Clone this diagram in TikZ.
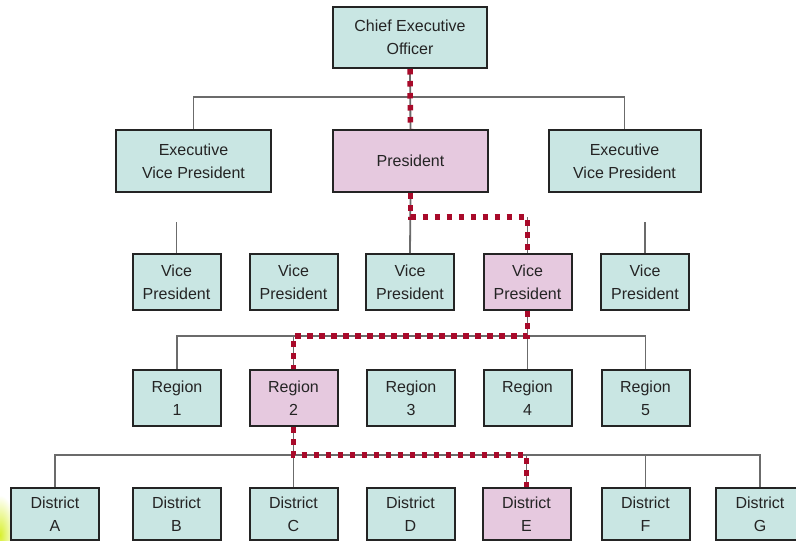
\documentclass[tikz,border=0pt]{standalone}
\usepackage{fontspec}
\setmainfont{Liberation Sans}
\begin{document}
\definecolor{boxteal}{HTML}{C9E6E3}
\definecolor{boxpink}{HTML}{E6C9DF}
\definecolor{edgeink}{HTML}{242424}
\definecolor{wire}{HTML}{6B6B6B}
\definecolor{pathred}{HTML}{A80A2A}
\definecolor{glow}{HTML}{D8F030}
\begin{tikzpicture}[x=1pt,y=-1pt,
  unit/.style={draw=edgeink,line width=2pt,fill=boxteal,inner sep=0pt,
    text=edgeink,align=center,
    font=\fontsize{16}{23}\selectfont},
  hilite/.style={unit,fill=boxpink},
  wide/.style={minimum width=155pt,minimum height=62pt},
  narrow/.style={minimum width=88pt,minimum height=56pt},
  lowbox/.style={minimum width=88pt,minimum height=52pt},
  link/.style={draw=wire,line width=1.8pt},
  route/.style={draw=pathred,line width=5.5pt,dash pattern=on 5.5pt off 6.5pt}]
\useasboundingbox (0,0) rectangle (796,541);
\clip (0,0) rectangle (796,541);
\fill[white] (0,0) rectangle (796,541);

% soft highlight in the lower left corner
\shade[inner color=glow,outer color=white] (0,535) ellipse [x radius=16pt,y radius=40pt];

% top levels
\node[unit,wide,minimum width=154pt,minimum height=61pt] (ceo) at (410,37.5) {Chief Executive\\Officer};
\node[hilite,wide] (pres) at (410.5,161) {President};
\node[unit,wide] (evpL) at (193.5,161) {Executive\\Vice President};
\node[unit,wide,minimum width=152pt] (evpR) at (624.5,161) {Executive\\Vice President};

% vice presidents
\node[unit,narrow] (vp1) at (176.5,282) {Vice\\President};
\node[unit,narrow] (vp2) at (293.5,282) {Vice\\President};
\node[unit,narrow] (vp3) at (410,282) {Vice\\President};
\node[hilite,narrow] (vp4) at (527.5,282) {Vice\\President};
\node[unit,narrow] (vp5) at (645,282) {Vice\\President};

% regions
\node[unit,narrow] (r1) at (177,398) {Region\\1};
\node[hilite,narrow] (r2) at (293.5,398) {Region\\2};
\node[unit,narrow] (r3) at (411,398) {Region\\3};
\node[unit,narrow] (r4) at (527.5,398) {Region\\4};
\node[unit,narrow] (r5) at (645.5,398) {Region\\5};

% districts
\node[unit,lowbox] (dA) at (55,514) {District\\A};
\node[unit,lowbox] (dB) at (176.5,514) {District\\B};
\node[unit,lowbox] (dC) at (293.5,514) {District\\C};
\node[unit,lowbox] (dD) at (410.5,514) {District\\D};
\node[hilite,lowbox] (dE) at (526.5,514) {District\\E};
\node[unit,lowbox] (dF) at (645.5,514) {District\\F};
\node[unit,lowbox] (dG) at (760,514) {District\\G};

% junction points
\coordinate (bus1) at (410,97);
\coordinate (s1) at (176.5,222);
\coordinate (s5) at (645,222);
\coordinate (k1) at (527.5,217);
\coordinate (bus2) at (527.5,336);
\coordinate (bus3) at (293.5,455);

% reporting lines
\draw[link] (ceo.south) -- (pres.north);
\draw[link] (evpL.north) |- (bus1) -| (evpR.north);
\draw[link] (s1) -- (vp1.north);
\draw[link] (s5) -- (vp5.north);
\draw[link] (pres.south) -- (vp3.north);
\draw[link] (k1) -- (vp4.north);
\draw[link] (vp4.south) -- (r4.north);
\draw[link] (r1.north) |- (bus2) -| (r5.north);
\draw[link] (r2.north) -- (r2.north |- bus2);
\draw[link] (r2.south) -- (dC.north);
\draw[link] (dA.north) |- (bus3) -| (dG.north);
\draw[link] (dF.north) -- (dF.north |- bus3);
\draw[link] (dE.north) -- (dE.north |- bus3);

% chain of command
\draw[route] (ceo.south) -- (pres.north);
\draw[route] (pres.south) |- (k1) -- (vp4.north);
\draw[route] (vp4.south) -- (bus2) -| (r2.north);
\draw[route] (r2.south) -- (bus3) -| (dE.north);
\end{tikzpicture}
\end{document}
